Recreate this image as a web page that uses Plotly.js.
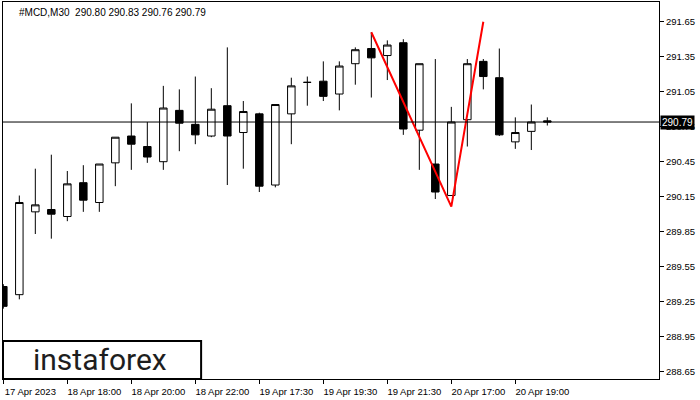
<!DOCTYPE html>
<html>
<head>
<meta charset="utf-8">
<script src="https://cdn.plot.ly/plotly-3.0.1.min.js"></script>
<style>
  html, body { margin: 0; padding: 0; background: #ffffff; }
  #chart { width: 700px; height: 400px; }
</style>
</head>
<body>
<div id="chart"></div>
<script>
// ---- Data ----
const symbol = "#MCD,M30";
const opens  = [289.38, 289.31, 290.02, 290.04, 289.98, 290.27, 290.10, 290.44, 290.67, 290.58,
                290.45, 290.89, 290.77, 290.67, 290.93, 290.70, 290.86, 290.25, 290.86, 291.13,
                291.14, 291.03, 291.29, 291.42, 291.36, 291.47, 290.72, 290.43, 290.16, 290.81,
                291.31, 291.17, 290.62, 290.71, 290.80];
const highs  = [289.40, 290.16, 290.39, 290.51, 290.37, 290.42, 290.43, 290.66, 290.95, 290.79,
                291.10, 291.07, 291.18, 291.08, 291.43, 290.97, 290.87, 290.94, 291.17, 291.18,
                291.31, 291.31, 291.43, 291.56, 291.49, 291.50, 291.29, 291.33, 290.92, 291.33,
                291.33, 291.42, 290.83, 290.94, 290.83];
const lows   = [289.19, 289.27, 289.83, 289.79, 289.94, 290.02, 290.02, 290.24, 290.38, 290.44,
                290.38, 290.54, 290.60, 290.66, 290.25, 290.39, 290.19, 290.23, 290.60, 290.93,
                290.97, 290.89, 291.11, 291.00, 291.15, 290.68, 290.38, 290.13, 290.16, 290.58,
                291.07, 290.67, 290.56, 290.55, 290.76];
const closes = [289.21, 290.10, 290.08, 290.00, 290.26, 290.12, 290.43, 290.66, 290.60, 290.49,
                290.91, 290.78, 290.68, 290.90, 290.67, 290.88, 290.24, 290.94, 291.10, 291.13,
                291.01, 291.27, 291.41, 291.34, 291.45, 290.73, 291.29, 290.19, 290.79, 291.29,
                291.18, 290.68, 290.70, 290.79, 290.79];
const timeLabels = ["17 Apr 2023", "18 Apr 18:00", "18 Apr 20:00", "18 Apr 22:00", "19 Apr 17:30",
                    "19 Apr 19:30", "19 Apr 21:30", "20 Apr 17:00", "20 Apr 19:00"];
const priceTicks = [288.65, 288.95, 289.25, 289.55, 289.85, 290.15, 290.45, 290.75, 291.05, 291.35, 291.65];
// pattern line (candle index, price)
const patternBars   = [23, 28, 30];
const patternPrices = [291.56, 290.065, 291.65];

// ---- Build ----
const idx = opens.map((_, i) => i);
const last = opens.length - 1;
const lastClose = closes[last];
const tickStep = 4;

const candles = {
  type: 'candlestick',
  x: idx, open: opens, high: highs, low: lows, close: closes,
  increasing: { line: { color: '#000000', width: 1 }, fillcolor: '#ffffff' },
  decreasing: { line: { color: '#000000', width: 1 }, fillcolor: '#000000' },
  whiskerwidth: 0,
  hoverinfo: 'skip',
  showlegend: false
};

const pattern = {
  type: 'scatter', mode: 'lines',
  x: patternBars, y: patternPrices,
  line: { color: '#ff0000', width: 2 },
  hoverinfo: 'skip', showlegend: false
};

const axisFont = { family: 'Liberation Sans, Arial, sans-serif', size: 9.5, color: '#000000' };

const layout = {
  width: 700, height: 400,
  margin: { l: 3, r: 41, t: 2, b: 21 },
  paper_bgcolor: '#ffffff', plot_bgcolor: '#ffffff',
  boxgap: 0.33,
  showlegend: false,
  xaxis: {
    range: [-0.02, 40.98],
    rangeslider: { visible: false },
    showgrid: false, zeroline: false,
    showline: true, mirror: true, linecolor: '#000000', linewidth: 1,
    ticks: 'outside', ticklen: 4, tickcolor: '#000000', tickwidth: 1,
    tickmode: 'array',
    tickvals: timeLabels.map((_, k) => k * tickStep),
    ticktext: timeLabels,
    ticklabelshift: 27,
    tickfont: axisFont,
    fixedrange: true
  },
  yaxis: {
    side: 'right',
    range: [288.587, 291.819],
    showgrid: false, zeroline: false,
    showline: true, mirror: true, linecolor: '#000000', linewidth: 1,
    ticks: 'outside', ticklen: 4, tickcolor: '#000000', tickwidth: 1,
    tickmode: 'array',
    tickvals: priceTicks,
    ticktext: priceTicks.map(v => v.toFixed(2)),
    tickfont: axisFont,
    fixedrange: true
  },
  shapes: [
    { type: 'line', xref: 'paper', x0: 0, x1: 1, yref: 'y', y0: lastClose, y1: lastClose,
      line: { color: '#000000', width: 1 }, layer: 'above' },
    { type: 'rect', xref: 'paper', x0: 0, x1: 0.302, yref: 'paper', y0: 0, y1: 0.101,
      fillcolor: '#ffffff', line: { color: '#000000', width: 2 }, layer: 'above' }
  ],
  annotations: [
    { xref: 'paper', yref: 'paper', x: 0, y: 1, xanchor: 'left', yanchor: 'top',
      xshift: 14, yshift: -3, showarrow: false,
      text: symbol + '  ' + [opens[last], highs[last], lows[last], closes[last]].map(v => v.toFixed(2)).join(' '),
      font: { family: 'Liberation Sans, Arial, sans-serif', size: 10, color: '#000000' } },
    { xref: 'paper', yref: 'y', x: 1, y: lastClose, xanchor: 'left', yanchor: 'middle',
      xshift: 1, showarrow: false, text: lastClose.toFixed(2),
      bgcolor: '#000000', borderpad: 1,
      font: { family: 'Liberation Sans, Arial, sans-serif', size: 10, color: '#ffffff' } },
    { xref: 'paper', yref: 'paper', x: 0.1486, y: 0.052, xanchor: 'center', yanchor: 'middle',
      showarrow: false, text: 'instaforex',
      font: { family: 'Roboto, sans-serif', size: 30, color: '#1e1e1e' } }
  ]
};

Plotly.newPlot('chart', [candles, pattern], layout, { staticPlot: true, displayModeBar: false });
</script>
</body>
</html>
